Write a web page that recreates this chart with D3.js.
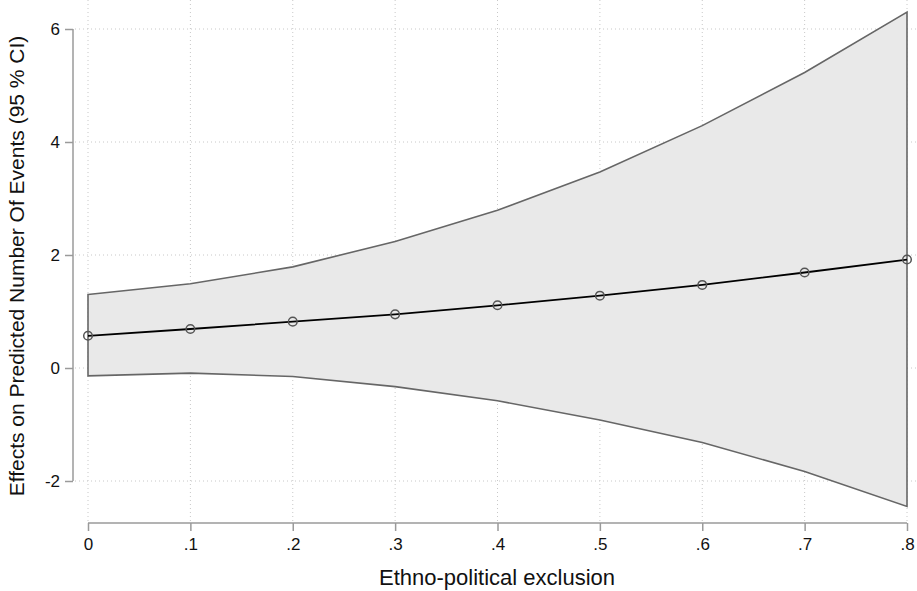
<!DOCTYPE html>
<html>
<head>
<meta charset="utf-8">
<script src="https://cdn.jsdelivr.net/npm/d3@7"></script>
<style>
  body { margin: 0; background: #fff; }
  text { font-family: "Liberation Sans", Arial, Helvetica, sans-serif; fill: #111; }
</style>
</head>
<body>
<div id="chart"></div>
<script>
// values
var exclusion = [0, 0.1, 0.2, 0.3, 0.4, 0.5, 0.6, 0.7, 0.8];
var effect    = [0.57, 0.69, 0.82, 0.95, 1.11, 1.28, 1.47, 1.69, 1.92];
var upperCI   = [1.30, 1.49, 1.79, 2.24, 2.79, 3.47, 4.29, 5.23, 6.30];
var lowerCI   = [-0.14, -0.09, -0.15, -0.33, -0.58, -0.92, -1.32, -1.83, -2.45];
var xTicks = [0, 0.1, 0.2, 0.3, 0.4, 0.5, 0.6, 0.7, 0.8];
var xTickLabels = ["0", ".1", ".2", ".3", ".4", ".5", ".6", ".7", ".8"];
var yTicks = [-2, 0, 2, 4, 6];
var yTickLabels = ["-2", "0", "2", "4", "6"];

var svgWidth = 917;
var svgHeight = 591;

var svg = d3.select("#chart")
    .append("svg")
    .attr("width", svgWidth)
    .attr("height", svgHeight);

var x = d3.scaleLinear().domain([0, 0.8]).range([88, 907]);
var y = d3.scaleLinear().domain([-2, 6]).range([481, 29]);

var data = exclusion.map((d, i) => ({x: d, mid: effect[i], hi: upperCI[i], lo: lowerCI[i]}));

// dotted grid
svg.append("g").selectAll("line")
    .data(xTicks)
    .enter().append("line")
    .attr("x1", d => x(d)).attr("x2", d => x(d))
    .attr("y1", 0).attr("y2", 521)
    .attr("stroke", "#c8c8c8")
    .attr("stroke-width", 1)
    .attr("stroke-dasharray", "1,3");
svg.append("g").selectAll("line")
    .data(yTicks)
    .enter().append("line")
    .attr("x1", 75).attr("x2", 917)
    .attr("y1", d => y(d)).attr("y2", d => y(d))
    .attr("stroke", "#c8c8c8")
    .attr("stroke-width", 1)
    .attr("stroke-dasharray", "1,3");

// confidence band
var area = d3.area()
    .x(d => x(d.x))
    .y0(d => y(d.lo))
    .y1(d => y(d.hi));
svg.append("path")
    .datum(data)
    .attr("d", area)
    .attr("fill", "#e9e9e9")
    .attr("stroke", "none");

// band outline (upper, right edge, lower, left edge)
var outline = data.map(d => [x(d.x), y(d.hi)])
    .concat(data.slice().reverse().map(d => [x(d.x), y(d.lo)]));
svg.append("path")
    .attr("d", d3.line()(outline) + "Z")
    .attr("fill", "none")
    .attr("stroke", "#666")
    .attr("stroke-width", 1.6);

// point estimate line
svg.append("path")
    .datum(data)
    .attr("d", d3.line().x(d => x(d.x)).y(d => y(d.mid)))
    .attr("fill", "none")
    .attr("stroke", "#000")
    .attr("stroke-width", 1.8);

svg.append("g").selectAll("circle")
    .data(data)
    .enter().append("circle")
    .attr("cx", d => x(d.x))
    .attr("cy", d => y(d.mid))
    .attr("r", 4.3)
    .attr("fill", "none")
    .attr("stroke", "#555")
    .attr("stroke-width", 1.5);

// axes
var xAxis = svg.append("g")
    .attr("transform", "translate(0,523)")
    .call(d3.axisBottom(x).tickValues(xTicks).tickFormat((d, i) => xTickLabels[i]).tickSize(8).tickSizeOuter(0));
var yAxis = svg.append("g")
    .attr("transform", "translate(73,0)")
    .call(d3.axisLeft(y).tickValues(yTicks).tickFormat((d, i) => yTickLabels[i]).tickSize(8).tickSizeOuter(0));

[xAxis, yAxis].forEach(g => {
    g.select(".domain").attr("stroke", "#9a9a9a").attr("stroke-width", 1.5);
    g.selectAll(".tick line").attr("stroke", "#9a9a9a").attr("stroke-width", 1.5);
    g.selectAll(".tick text")
        .attr("font-size", 17)
        .attr("font-family", "'Liberation Sans', Arial, sans-serif")
        .attr("fill", "#111");
});
xAxis.select(".domain").attr("d", "M" + x(0) + ",0H" + x(0.8));
yAxis.select(".domain").attr("d", "M0," + y(6) + "V" + y(-2));
xAxis.selectAll(".tick text").attr("dy", "0.71em").attr("y", 15);
yAxis.selectAll(".tick text").attr("x", -13);

// axis titles
svg.append("text")
    .attr("x", 497)
    .attr("y", 585)
    .attr("text-anchor", "middle")
    .attr("font-size", 22)
    .text("Ethno-political exclusion");

svg.append("text")
    .attr("transform", "translate(24,266)rotate(-90)")
    .attr("text-anchor", "middle")
    .attr("font-size", 21)
    .text("Effects on Predicted Number Of Events (95 % CI)");
</script>
</body>
</html>
